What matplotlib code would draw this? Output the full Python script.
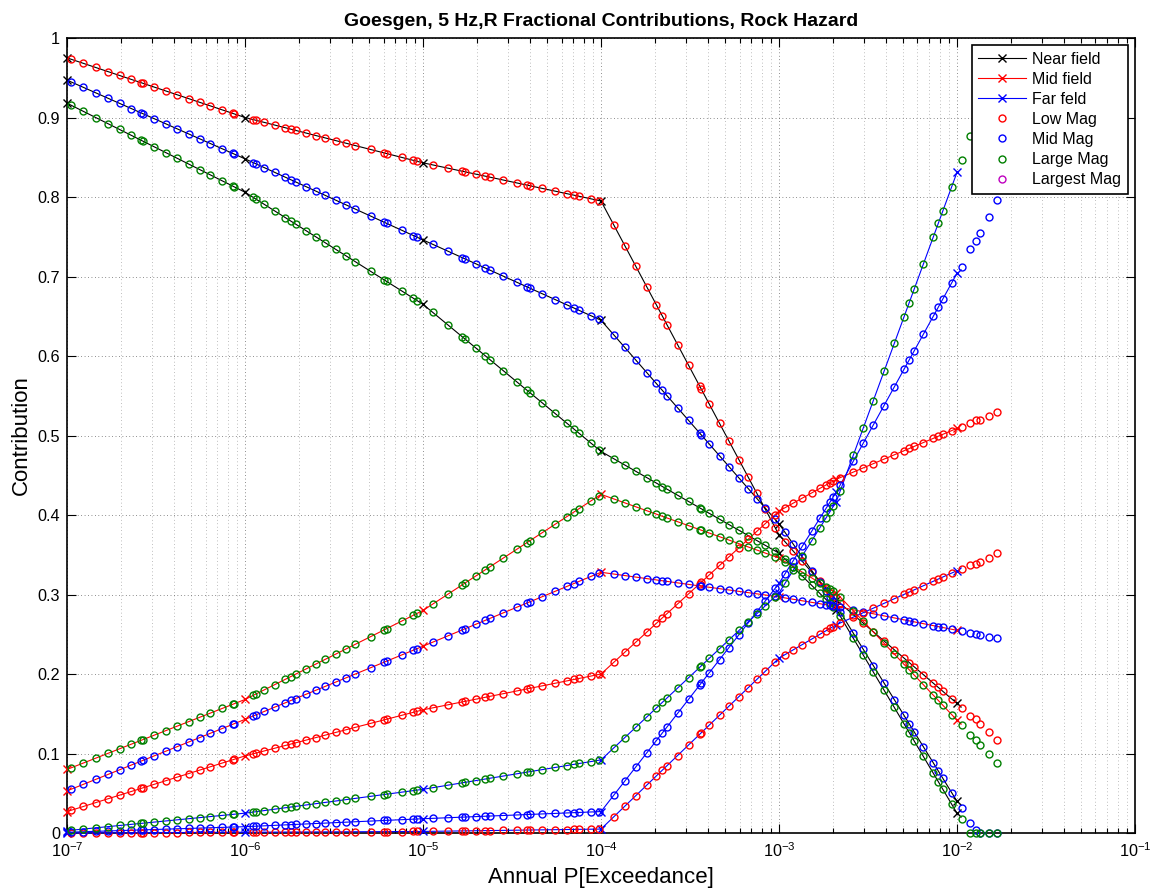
import numpy as np
import matplotlib
matplotlib.use("Agg")
import matplotlib.pyplot as plt
from matplotlib.lines import Line2D
from matplotlib.ticker import FixedLocator, LogFormatterSciNotation, NullFormatter, FuncFormatter

plt.rcParams['font.family'] = ['Liberation Sans', 'DejaVu Sans']

# annual exceedance probabilities where the distance-bin curves have nodes (x markers)
p_nodes = [1e-7, 1e-6, 1e-5, 1e-4, 1e-3, 2.1e-3, 1e-2]

# fractional contributions at the nodes: distance bin x magnitude bin
near_low = [0.975, 0.900, 0.843, 0.795, 0.375, 0.293, 0.163]
near_mid = [0.947, 0.848, 0.746, 0.645, 0.389, 0.286, 0.040]
near_large = [0.918, 0.806, 0.665, 0.480, 0.352, 0.281, 0.025]
mid_low = [0.027, 0.097, 0.155, 0.200, 0.405, 0.445, 0.509]
mid_mid = [0.053, 0.143, 0.235, 0.328, 0.297, 0.285, 0.255]
mid_large = [0.080, 0.168, 0.280, 0.426, 0.346, 0.302, 0.142]
far_low = [0.000, 0.001, 0.002, 0.005, 0.220, 0.262, 0.330]
far_mid = [0.001, 0.008, 0.018, 0.027, 0.314, 0.429, 0.704]
far_large = [0.003, 0.025, 0.055, 0.092, 0.302, 0.417, 0.831]

# probability levels of the magnitude markers (o) that sit on the curves
p_levels = [
    1.052e-7, 1.236e-7, 1.449e-7, 1.698e-7, 1.972e-7, 2.296e-7, 2.600e-7, 2.667e-7, 3.090e-7,
    3.589e-7, 4.140e-7, 4.831e-7, 5.572e-7, 6.397e-7, 7.430e-7, 8.531e-7, 8.710e-7,
    1.114e-6, 1.148e-6, 1.282e-6, 1.472e-6, 1.683e-6, 1.811e-6, 1.923e-6, 2.208e-6, 2.500e-6,
    2.831e-6, 3.236e-6, 3.681e-6, 4.169e-6, 5.070e-6, 6.039e-6, 6.252e-6, 7.621e-6, 8.831e-6, 9.290e-6,
    1.132e-5, 1.377e-5, 1.663e-5, 1.730e-5, 1.991e-5, 2.234e-5, 2.377e-5, 2.825e-5, 3.357e-5,
    3.828e-5, 3.990e-5, 4.688e-5, 5.521e-5, 6.427e-5, 7.047e-5, 7.551e-5, 8.790e-5, 9.772e-5,
    1.178e-4, 1.361e-4, 1.567e-4, 1.811e-4, 2.042e-4, 2.213e-4, 2.344e-4, 2.692e-4, 3.105e-4,
    3.589e-4, 3.664e-4, 4.064e-4, 4.634e-4, 5.236e-4, 5.957e-4, 6.730e-4, 7.516e-4, 8.356e-4, 9.506e-4,
    1.081e-3, 1.202e-3, 1.352e-3, 1.528e-3, 1.698e-3, 1.837e-3, 1.936e-3, 2.018e-3, 2.203e-3,
    2.612e-3, 2.979e-3, 3.388e-3, 3.890e-3, 4.446e-3, 5.035e-3, 5.395e-3, 5.754e-3, 6.471e-3,
    7.362e-3, 7.852e-3, 8.318e-3, 9.333e-3,
]

# magnitude markers past the last node (no curve drawn there)
p_beyond = [1.062e-2, 1.183e-2, 1.274e-2, 1.346e-2, 1.514e-2, 1.683e-2]
near_low_b = [0.157, 0.147, 0.143, 0.137, 0.127, 0.117]
near_mid_b = [0.032, 0.013, 0.004, 0.0, 0.0, 0.0]
near_large_b = [0.018, 0.0, 0.0, 0.0, 0.0, 0.0]
mid_low_b = [0.511, 0.516, 0.519, 0.520, 0.524, 0.530]
mid_mid_b = [0.254, 0.251, 0.250, 0.249, 0.247, 0.245]
mid_large_b = [0.136, 0.123, 0.117, 0.111, 0.099, 0.088]
far_low_b = [0.332, 0.337, 0.339, 0.341, 0.346, 0.352]
far_mid_b = [0.712, 0.734, 0.745, 0.755, 0.775, 0.796]
far_large_b = [0.846, 0.877, 0.883, 0.889, 0.901, 0.912]

x_ticks = [1e-7, 1e-6, 1e-5, 1e-4, 1e-3, 1e-2, 1e-1]
x_minor = [m * d for d in x_ticks[:-1] for m in range(2, 10)]

GREEN = '#008000'
series = [
    ('k', 'r', near_low, near_low_b),
    ('k', 'b', near_mid, near_mid_b),
    ('k', GREEN, near_large, near_large_b),
    ('r', 'r', mid_low, mid_low_b),
    ('r', 'b', mid_mid, mid_mid_b),
    ('r', GREEN, mid_large, mid_large_b),
    ('b', 'r', far_low, far_low_b),
    ('b', 'b', far_mid, far_mid_b),
    ('b', GREEN, far_large, far_large_b),
]

fig = plt.figure(figsize=(11.54, 8.90), dpi=100)
ax = fig.add_axes([0.0581, 0.064, 0.9254, 0.8933])

log_nodes = np.log10(p_nodes)
for dist_col, mag_col, vals, vals_b in series:
    ax.plot(p_nodes, vals, color=dist_col, lw=0.8, marker='x', ms=6, mew=1.0,
            clip_on=False, zorder=3)
    # markers placed on the plotted curve at the read-off probability levels
    y_lev = np.interp(np.log10(p_levels), log_nodes, vals)
    ax.plot(p_levels + p_beyond, list(y_lev) + vals_b, ls='none', marker='o', ms=5,
            mfc='none', mec=mag_col, mew=1.0, clip_on=False, zorder=4)

ax.set_xscale('log')
ax.set_xlim(1e-7, 1e-1)
ax.set_ylim(0, 1)
ax.xaxis.set_major_locator(FixedLocator(x_ticks))
ax.xaxis.set_major_formatter(LogFormatterSciNotation())
ax.xaxis.set_minor_locator(FixedLocator(x_minor))
ax.xaxis.set_minor_formatter(NullFormatter())
ax.set_yticks(np.linspace(0, 1, 11))
ax.yaxis.set_major_formatter(FuncFormatter(lambda v, pos: f"{round(v, 1):g}"))

ax.grid(True, which='major', axis='both', color='0.3', linestyle=(0, (1, 3.5)), linewidth=0.55)
ax.grid(True, which='minor', axis='x', color='0.6', linestyle=(0, (1, 3.5)), linewidth=0.55)
ax.set_axisbelow(True)
ax.tick_params(which='both', direction='in', top=True, right=True, width=0.8, labelsize=11.7)
ax.tick_params(which='major', length=6.5)
ax.tick_params(which='minor', length=3.6)
ax.tick_params(axis='x', which='major', pad=6)
ax.tick_params(axis='y', which='major', pad=5)
for sp in ax.spines.values():
    sp.set_linewidth(1.2)

ax.set_title("Goesgen, 5 Hz,R Fractional Contributions, Rock Hazard",
             fontsize=14, fontweight='bold', pad=9)
ax.set_xlabel("Annual P[Exceedance]", fontsize=16, labelpad=5)
ax.set_ylabel("Contribution", fontsize=16, labelpad=4)

handles = [
    Line2D([], [], color='k', lw=0.8, marker='x', ms=6),
    Line2D([], [], color='r', lw=0.8, marker='x', ms=6),
    Line2D([], [], color='b', lw=0.8, marker='x', ms=6),
    Line2D([], [], ls='none', marker='o', ms=5, mfc='none', mec='r'),
    Line2D([], [], ls='none', marker='o', ms=5, mfc='none', mec='b'),
    Line2D([], [], ls='none', marker='o', ms=5, mfc='none', mec=GREEN),
    Line2D([], [], ls='none', marker='o', ms=5, mfc='none', mec='m'),
]
labels = ['Near field', 'Mid field', 'Far feld', 'Low Mag', 'Mid Mag', 'Large Mag', 'Largest Mag']
leg = ax.legend(handles, labels, loc='upper right', fontsize=11.5, frameon=True, fancybox=False,
                framealpha=1, edgecolor='k', handlelength=3.0, handletextpad=0.4,
                labelspacing=0.32, borderpad=0.4, borderaxespad=0.45)
leg.get_frame().set_linewidth(1.2)
leg.set_zorder(10)

fig.savefig('out.png', dpi=100)
